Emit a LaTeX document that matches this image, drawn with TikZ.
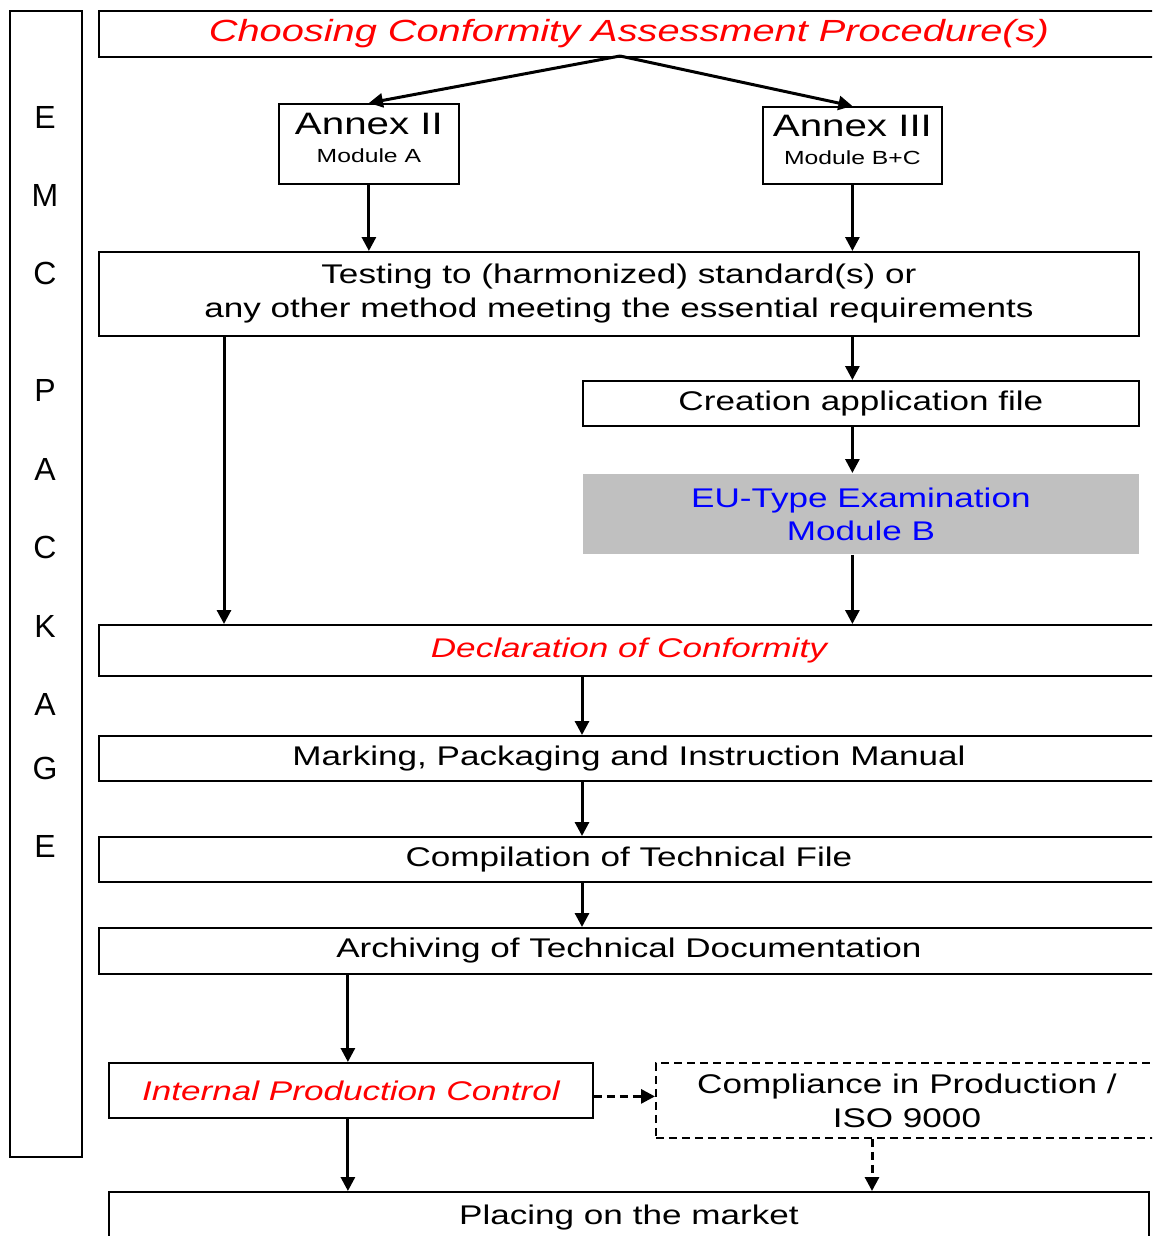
\documentclass[tikz,border=0pt]{standalone}
\usepackage{fontspec}
\setmainfont[FakeStretch=1.3]{Liberation Sans}
\newfontfamily\plainsans{Liberation Sans}
\usetikzlibrary{arrows.meta,calc}
\definecolor{eugray}{RGB}{192,192,192}
\newcommand\fsz[2]{\fontsize{#1}{#2}\selectfont}
\begin{document}
\begin{tikzpicture}[x=1pt,y=-1pt,
  box/.style={draw, line width=1.8pt, rectangle, anchor=north west, inner sep=0pt, font=\fsz{27}{34}, align=center},
  dbox/.style={box, dash pattern=on 8pt off 5pt},
  arr/.style={line width=3pt, -{Triangle[length=14pt,width=14pt]}},
  darr/.style={arr, dash pattern=on 8pt off 5pt},
  letter/.style={font=\plainsans\fsz{32}{36}, inner sep=0pt}
]
\useasboundingbox (0,0) rectangle (1152,1236);
\clip (0,0) rectangle (1152,1236);

% left EMC PACKAGE box
\node[box, minimum width=72pt, minimum height=1146pt] (emc) at (9,10) {};
\node[letter] (l1) at (45,117) {E};
\node[letter] (l2) at (45,195) {M};
\node[letter] (l3) at (45,273) {C};
\node[letter] (l4) at (45,390) {P};
\node[letter] (l5) at (45,469) {A};
\node[letter] (l6) at (45,547) {C};
\node[letter] (l7) at (45,626) {K};
\node[letter] (l8) at (45,704) {A};
\node[letter] (l9) at (45,768) {G};
\node[letter] (l10) at (45,846) {E};

% boxes
\node[box, minimum width=1060pt, minimum height=46pt, font=\fsz{30.6}{36}\itshape, text=red] (top) at (98,10) {Choosing Conformity Assessment Procedure(s)};
\node[box, minimum width=180pt, minimum height=80pt, text depth=12pt] (a2) at (278,103) {\fsz{31}{34}Annex II\\[-6pt]\fsz{19}{23}Module A};
\node[box, minimum width=179pt, minimum height=77pt, text depth=12pt] (a3) at (762,106) {\fsz{31}{34}Annex III\\[-6pt]\fsz{19}{23}Module B+C};
\node[box, minimum width=1040pt, minimum height=84pt] (test) at (98,251) {Testing to (harmonized) standard(s) or\\any other method meeting the essential requirements};
\node[box, minimum width=556pt, minimum height=45pt] (create) at (582,380) {Creation application file};
\node[box, draw=none, fill=eugray, text=blue, minimum width=556pt, minimum height=80pt, font=\fsz{27}{33}] (eu) at (582,473) {EU-Type Examination\\Module B};
\node[box, minimum width=1060pt, minimum height=51pt, font=\fsz{27}{34}\itshape, text=red] (decl) at (98,624) {Declaration of Conformity};
\node[box, minimum width=1060pt, minimum height=45pt] (mark) at (98,735) {Marking, Packaging and Instruction Manual};
\node[box, minimum width=1060pt, minimum height=45pt] (comp) at (98,836) {Compilation of Technical File};
\node[box, minimum width=1060pt, minimum height=46pt] (arch) at (98,927) {Archiving of Technical Documentation};
\node[box, minimum width=484pt, minimum height=55pt, font=\fsz{27}{34}\itshape, text=red] (ipc) at (108,1062) {Internal Production Control};
\node[dbox, minimum width=502pt, minimum height=75pt] (iso) at (655,1062) {Compliance in Production /\\ISO 9000};
\node[box, minimum width=1040pt, minimum height=52pt] (place) at (108,1191) {Placing on the market};

% connectors
\coordinate (split) at (620,56);
\draw[arr] (split) -- (a2.north);
\draw[arr] (split) -- (a3.north);
\draw[arr] (a2.south) -- (a2.south |- test.north);
\draw[arr] (a3.south) -- (a3.south |- test.north);
\draw[arr] ([xshift=126pt]test.south west) -- ([xshift=126pt]test.south west |- decl.north);
\draw[arr] (a3.south |- test.south) -- (a3.south |- create.north);
\draw[arr] (a3.south |- create.south) -- (a3.south |- eu.north);
\draw[arr] (a3.south |- eu.south) -- (a3.south |- decl.north);
\draw[arr] ([xshift=484pt]decl.south west) -- ([xshift=484pt]decl.south west |- mark.north);
\draw[arr] ([xshift=484pt]mark.south west) -- ([xshift=484pt]mark.south west |- comp.north);
\draw[arr] ([xshift=484pt]comp.south west) -- ([xshift=484pt]comp.south west |- arch.north);
\draw[arr] ([xshift=-3pt]ipc.north |- arch.south) -- ([xshift=-3pt]ipc.north);
\draw[arr] ([xshift=-3pt]ipc.south) -- ([xshift=-3pt]ipc.south |- place.north);
\draw[darr] ([yshift=4pt]ipc.east |- iso.west) -- ([yshift=4pt]iso.west);
\draw[darr] ([xshift=217pt]iso.south west) -- ([xshift=217pt]iso.south west |- place.north);
\end{tikzpicture}
\end{document}
